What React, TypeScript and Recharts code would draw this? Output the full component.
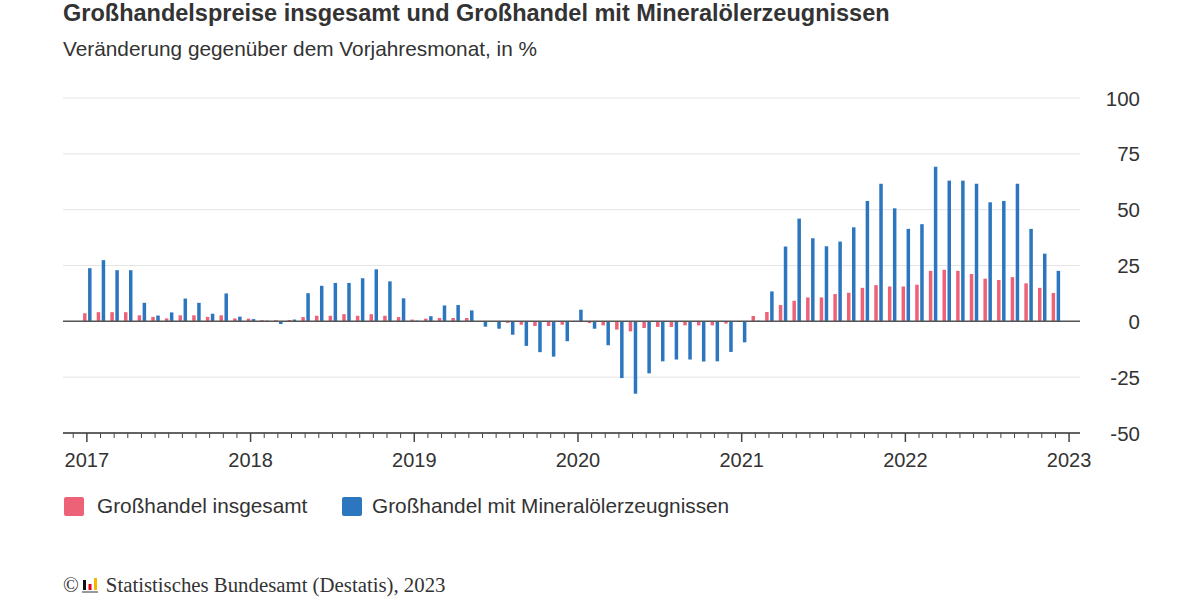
import React from "react";
import {
  BarChart,
  Bar,
  XAxis,
  YAxis,
  CartesianGrid,
  ReferenceLine,
} from "recharts";

// monthly values Jan 2017 .. Dec 2022, change vs. same month of previous year in %
const START_YEAR = 2017;
const YEAR_LABELS = [2017, 2018, 2019, 2020, 2021, 2022, 2023];
const Y_TICKS = [-50, -25, 0, 25, 50, 75, 100];

const insgesamt = [
  // 2017
  3.6, 4.1, 4.1, 4.1, 2.7, 2.0, 1.3, 2.7, 2.7, 2.0, 2.7, 1.3,
  // 2018
  1.2, 0.5, 0.5, 0.6, 1.9, 2.5, 2.5, 3.2, 2.5, 3.2, 2.5, 1.9,
  // 2019
  0.8, 1.2, 1.5, 1.5, 1.5, -0.3, -0.2, -0.7, -1.5, -2.1, -2.1, -1.5,
  // 2020
  0.2, -0.8, -1.8, -3.7, -4.5, -3.0, -2.5, -2.5, -1.8, -1.8, -1.8, -1.0,
  // 2021
  -0.3, 2.4, 4.2, 7.3, 9.2, 10.7, 10.7, 12.2, 12.8, 15.0, 16.2, 15.6,
  // 2022
  15.6, 16.4, 22.6, 23.1, 22.6, 21.2, 19.1, 18.5, 19.8, 17.0, 15.0, 12.7,
];

const mineraloel = [
  // 2017
  23.8, 27.4, 22.9, 22.9, 8.3, 2.6, 4.0, 10.2, 8.3, 3.4, 12.5, 2.1,
  // 2018
  1.0, 0.3, -1.2, 0.8, 12.6, 15.9, 17.2, 17.2, 19.3, 23.3, 17.9, 10.3,
  // 2019
  0.3, 2.3, 7.1, 7.3, 4.9, -2.4, -3.3, -6.0, -11.0, -13.8, -15.8, -8.9,
  // 2020
  5.2, -3.3, -10.7, -25.4, -32.4, -23.3, -17.9, -17.1, -17.1, -18.0, -17.9, -13.7,
  // 2021
  -9.4, 0.3, 13.4, 33.5, 46.0, 37.2, 33.6, 35.7, 42.1, 53.9, 61.6, 50.6,
  // 2022
  41.4, 43.5, 69.2, 63.0, 63.0, 61.6, 53.3, 53.9, 61.6, 41.4, 30.3, 22.6,
];

const data = insgesamt.map((v, i) => ({ i, insgesamt: v, mineraloel: mineraloel[i] }));
const monthTicks = Array.from({ length: 74 }, (_, k) => k - 1);

const RED = "#ee6277";
const BLUE = "#2b76bf";
const TEXT = "#333333";
const FONT = "'Liberation Sans', Arial, sans-serif";
const AXIS_Y = 433;

const MonthTick = (props: any) => {
  const { x, payload } = props;
  const idx = payload.value as number;
  const isYear = idx % 12 === 0;
  return (
    <g>
      <line x1={x} x2={x} y1={AXIS_Y} y2={AXIS_Y + (isYear ? 9 : 5)} stroke="#444" strokeWidth={isYear ? 1.5 : 1} />
      {isYear && (
        <text x={x} y={AXIS_Y + 34} textAnchor="middle" fontSize={20} fill={TEXT} fontFamily={FONT}>
          {YEAR_LABELS[idx / 12] ?? START_YEAR + idx / 12}
        </text>
      )}
    </g>
  );
};

const ValueTick = (props: any) => {
  const { y, payload } = props;
  return (
    <text x={1140} y={y} textAnchor="end" dominantBaseline="central" fontSize={20.5} fill={TEXT} fontFamily={FONT}>
      {payload.value}
    </text>
  );
};

function Logo() {
  return (
    <svg width={18} height={18} style={{ verticalAlign: "-2px", marginRight: 6 }}>
      <rect x={1} y={4} width={3} height={10} fill="#111" />
      <rect x={6.5} y={8} width={3} height={6} fill="#e2001a" />
      <rect x={12} y={2} width={3} height={12} fill="#f5b800" />
      <rect x={0} y={15} width={16} height={2} fill="#999" />
    </svg>
  );
}

export default function App() {
  return (
    <div style={{ position: "absolute", left: 0, top: 0, width: 1200, height: 600, background: "#fff", fontFamily: FONT, color: TEXT }}>
      <div style={{ position: "absolute", left: 63, top: 0, fontSize: 23.5, fontWeight: 700, whiteSpace: "nowrap" }}>
        Großhandelspreise insgesamt und Großhandel mit Mineralölerzeugnissen
      </div>
      <div style={{ position: "absolute", left: 63, top: 37, fontSize: 20.8, whiteSpace: "nowrap" }}>
        Veränderung gegenüber dem Vorjahresmonat, in %
      </div>

      <div style={{ position: "absolute", left: 0, top: 0 }}>
        <BarChart
          width={1200}
          height={480}
          data={data}
          margin={{ top: 98, right: 40, left: 63, bottom: 7 }}
          barSize={3.5}
          barGap={1.5}
        >
          <CartesianGrid horizontal vertical={false} stroke="#e4e4e4" />
          <XAxis
            dataKey="i"
            type="number"
            domain={[-1.75, 72.8]}
            ticks={monthTicks}
            interval={0}
            allowDataOverflow
            axisLine={{ stroke: "#333", strokeWidth: 1.5 }}
            tickLine={false}
            tick={<MonthTick />}
            height={40}
          />
          <YAxis
            orientation="right"
            domain={[-50, 100]}
            ticks={Y_TICKS}
            interval={0}
            axisLine={false}
            tickLine={false}
            tick={<ValueTick />}
            width={80}
          />
          <ReferenceLine y={0} stroke="#555" strokeWidth={1.5} />
          <Bar dataKey="insgesamt" fill={RED} isAnimationActive={false} />
          <Bar dataKey="mineraloel" fill={BLUE} isAnimationActive={false} />
        </BarChart>
      </div>

      <div style={{ position: "absolute", left: 64, top: 497, width: 20, height: 19, background: RED, borderRadius: 2 }} />
      <div style={{ position: "absolute", left: 97, top: 494, fontSize: 20.8, whiteSpace: "nowrap" }}>Großhandel insgesamt</div>
      <div style={{ position: "absolute", left: 342, top: 497, width: 20, height: 19, background: BLUE, borderRadius: 2 }} />
      <div style={{ position: "absolute", left: 372, top: 494, fontSize: 20.8, whiteSpace: "nowrap" }}>
        Großhandel mit Mineralölerzeugnissen
      </div>

      <div
        style={{
          position: "absolute",
          left: 63,
          top: 573,
          fontSize: 20.8,
          fontFamily: "'Liberation Serif', 'Times New Roman', serif",
          whiteSpace: "nowrap",
          color: "#333",
        }}
      >
        ©<span style={{ marginLeft: 3 }}><Logo /></span>Statistisches Bundesamt (Destatis), 2023
      </div>
    </div>
  );
}
